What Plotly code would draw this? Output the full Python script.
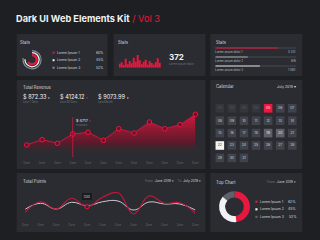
import plotly.graph_objects as go

W, H = 320, 240
BG = "#1e1f22"
PANEL = "#2a2c31"
RED = "#e8173f"
WHITE = "#f2f2f4"
TXT = "#d6d8dc"
DIM = "#70747c"
FONT = "Inter, Roboto, sans-serif"

# ---------------- data ----------------
title_main = "Dark UI Web Elements Kit"
title_vol = "/ Vol 3"

ring_labels = ["Lorem Ipsum 1", "Lorem Ipsum 2", "Lorem Ipsum 3"]
ring_percent_labels = ["60%", "45%", "52%"]
ring_arcs = [66, 76, 78]          # drawn share of each ring: red (inner), white, gray (outer)

bar_values = [12, 16, 8, 27, 10, 20, 13, 30, 18, 38, 22, 10, 18, 24, 9, 20, 14, 9, 16, 28, 15]
stat_total = "372"
stat_caption = "Lorem ipsum dolor"

progress_labels = ["Lorem ipsum dolor 1", "Lorem ipsum dolor 2", "Lorem ipsum dolor 3"]
progress_counts = ["5 310", "816", "1 080"]
progress_share = [77, 40, 55]

revenue_dates = ["Date"] * 12
revenue_values = [2250, 3440, 2630, 4717, 5100, 3300, 5910, 4940, 7410, 5910, 6800, 9140]
revenue_highlight = 3
revenue_totals = ["$ 872.33", "$ 4124.12", "$ 9073.99"]
revenue_periods = ["Last 7 Days", "Last 30 Days", "Last Month"]

calendar_month = "July 2019"
weekdays = ["S", "M", "T", "W", "T", "F", "S"]
days = list(range(1, 32))
faded_days = [1, 2, 3, 4]
selected_day = 5
range_days = [19, 20]
today = 22

points_dates = ["Date"] * 12
points_red = [310, 730, 440, 870, 530, 910, 1090, 240, 960, 670, 690, 270]
points_gray = [430, 670, 440, 710, 570, 730, 760, 400, 720, 640, 640, 400]
points_highlight = 4
points_tooltip = "1250"

top_labels = ["Lorem Ipsum 1", "Lorem Ipsum 2", "Lorem Ipsum 3"]
top_values = [48, 38, 14]
top_percent_labels = ["62%", "45%", "52%"]
top_month = "June 2019"

# ---------------- helpers ----------------
def X(x):
    return x / W

def Y(y):
    return 1 - y / H

shapes = []
annotations = []

def rect(x0, y0, x1, y1, color, layer="below"):
    shapes.append(dict(type="rect", xref="paper", yref="paper", x0=X(x0), x1=X(x1),
                       y0=Y(y1), y1=Y(y0), fillcolor=color, line=dict(width=0), layer=layer))

def T(x, y, s, size=4.0, color=TXT, xa="left", ya="middle"):
    annotations.append(dict(x=X(x), y=Y(y), xref="paper", yref="paper", text=s, showarrow=False,
                            xanchor=xa, yanchor=ya, borderpad=0, borderwidth=0,
                            font=dict(family=FONT, size=size, color=color)))

# panels
for p in [(14, 34, 107, 76), (113, 34, 207, 76), (212, 34, 306, 76),
          (14, 80, 207, 169), (212, 80, 306, 169),
          (14, 173, 207, 232), (212, 173, 306, 232)]:
    rect(*p, PANEL)

fig = go.Figure()

# title
T(13.5, 18.5, f"<b>{title_main}</b> <span style='color:{RED}'>{title_vol}</span>", size=9.2, color=WHITE)

# ---------- panel 1 : rings ----------
T(17, 42, "Stats", 4.2)
ring_colors = [RED, WHITE, "#8b8f97"]
ring_radius = [5.9, 7.9, 9.9]
ring_thick = [2.3, 1.3, 1.2]
cx, cy = 29.7, 59.7
for i in range(3):
    r = ring_radius[i]
    fig.add_trace(go.Pie(values=[ring_arcs[i], 100 - ring_arcs[i]], sort=False, direction="clockwise",
                         rotation=0, hole=(r - ring_thick[i]) / r, textinfo="none", hoverinfo="skip",
                         marker=dict(colors=[ring_colors[i], "rgba(0,0,0,0)"], line=dict(width=0)),
                         domain=dict(x=[X(cx - r), X(cx + r)], y=[Y(cy + r), Y(cy - r)]),
                         showlegend=False))
for i, lab in enumerate(ring_labels):
    yy = 52.7 + 7.5 * i
    rect(50.7, yy - 1, 52.7, yy + 1, ring_colors[i], layer="above")
    T(55, yy, lab, 3.3, TXT)
    T(102, yy, ring_percent_labels[i], 3.3, TXT, xa="right")

# ---------- panel 2 : bars ----------
T(118, 42, "Stats", 4.2)
fig.add_trace(go.Bar(x=list(range(len(bar_values))), y=bar_values, width=0.5,
                     marker=dict(color=RED, line=dict(width=0)), xaxis="x3", yaxis="y3",
                     hoverinfo="skip", showlegend=False))
T(169.5, 57.3, f"<b>{stat_total}</b>", 8, WHITE)
T(170, 64.3, stat_caption, 2.8, DIM)

# ---------- panel 3 : progress ----------
T(218, 42, "Stats", 4.2)
fig.add_trace(go.Bar(y=[0, 1, 2], x=[100, 100, 100], orientation="h", width=0.11,
                     marker=dict(color="#45484f", line=dict(width=0)), xaxis="x5", yaxis="y5",
                     hoverinfo="skip", showlegend=False))
fig.add_trace(go.Bar(y=[0, 1, 2], x=progress_share, orientation="h", width=0.11,
                     marker=dict(color=[RED, "#a4a7ad", "#d9dadd"], line=dict(width=0)),
                     xaxis="x5", yaxis="y5", hoverinfo="skip", showlegend=False))
for i, lab in enumerate(progress_labels):
    yy = 51.5 + 9 * i
    T(217, yy, lab, 2.9, "#b9bcc2")
    T(300, yy, progress_counts[i], 2.9, "#b9bcc2", xa="right")

# ---------- revenue ----------
T(20, 87, "Total Revenue", 4.2)
for i, v in enumerate(revenue_totals):
    xx = [20, 58.3, 96.7][i]
    dot = RED if i == 1 else WHITE
    T(xx, 96.7, f"{v} <span style='font-size:3px;color:{dot}'>▾</span>", 5.6, WHITE)
    T(xx, 102.5, revenue_periods[i], 2.8, DIM)

fig.add_trace(go.Scatter(
    x=list(range(len(revenue_values))), y=revenue_values, mode="lines+markers",
    fill="tozeroy",
    fillgradient=dict(type="vertical", colorscale=[[0, "rgba(42,44,49,0)"], [0.3, "rgba(110,20,42,0.75)"],
                                                   [1, "rgba(215,24,60,1)"]]),
    line=dict(color="#c9183d", width=1),
    marker=dict(size=4.6, color="#6a1126", line=dict(color=RED, width=1)),
    cliponaxis=False, hoverinfo="skip", showlegend=False, xaxis="x", yaxis="y"))
shapes.append(dict(type="line", xref="x", yref="paper", x0=revenue_highlight, x1=revenue_highlight,
                   y0=Y(157), y1=Y(117), line=dict(color=RED, width=0.7), layer="above"))
annotations.append(dict(x=revenue_highlight, y=Y(120.3), xref="x", yref="paper", xanchor="left", yanchor="middle",
                        xshift=3, showarrow=False, borderpad=0, borderwidth=0,
                        text=f"$ {revenue_values[revenue_highlight]} <span style='font-size:2.5px;color:{RED}'>▾</span>",
                        font=dict(family=FONT, size=3.8, color=WHITE)))
annotations.append(dict(x=revenue_highlight, y=Y(124.5), xref="x", yref="paper", xanchor="left", yanchor="middle",
                        xshift=3, showarrow=False, borderpad=0, borderwidth=0, text="in Dollars",
                        font=dict(family=FONT, size=2.6, color=DIM)))

# ---------- calendar ----------
T(218, 86.7, "Calendar", 4.2)
T(300, 86.7, f"{calendar_month} ▾", 3.5, TXT, xa="right")
cx_, cy_, mc, tc = [], [], [], []
for d in days:
    cx_.append((d - 1) % 7)
    cy_.append((d - 1) // 7)
    if d in faded_days:
        mc.append("#34363c"); tc.append("#5e6168")
    elif d == selected_day:
        mc.append("#f0163d"); tc.append(WHITE)
    elif d in range_days:
        mc.append("#5d6169"); tc.append(WHITE)
    elif d == today:
        mc.append("#f4f4f5"); tc.append("#2a2c31")
    else:
        mc.append("#40434a"); tc.append("#d2d4d8")
fig.add_trace(go.Scatter(x=cx_, y=cy_, mode="markers+text", text=[f"{d:02d}" for d in days],
                         textposition="middle center", textfont=dict(family=FONT, size=3.4, color=tc),
                         marker=dict(symbol="square", size=8.6, color=mc, line=dict(width=0)),
                         xaxis="x4", yaxis="y4", hoverinfo="skip", showlegend=False, cliponaxis=False))
fig.add_trace(go.Scatter(x=list(range(7)), y=[-0.8] * 7, mode="text", text=weekdays,
                         textfont=dict(family=FONT, size=3.4, color="#7d8088"),
                         xaxis="x4", yaxis="y4", hoverinfo="skip", showlegend=False, cliponaxis=False))

# ---------- total points ----------
T(20, 181, "Total Points", 4.2)
T(202, 181, f"<span style='color:{DIM}'>From</span>  June 2019 ▾    <span style='color:{DIM}'>To</span>  July 2019 ▾",
  3.3, TXT, xa="right")
px_ = list(range(len(points_red)))
fig.add_trace(go.Scatter(x=px_, y=points_gray, mode="lines", line=dict(color="#c8cad0", width=1, shape="spline",
                         smoothing=1.2), xaxis="x2", yaxis="y2", hoverinfo="skip", showlegend=False,
                         cliponaxis=False))
fig.add_trace(go.Scatter(x=px_, y=points_red, mode="lines", line=dict(color="#c2173c", width=1.2, shape="spline",
                         smoothing=1.2), xaxis="x2", yaxis="y2", hoverinfo="skip", showlegend=False,
                         cliponaxis=False))
fig.add_trace(go.Scatter(x=[points_highlight], y=[points_red[points_highlight]], mode="markers",
                         marker=dict(size=4.2, color="#2a2c31", line=dict(color=RED, width=1)),
                         xaxis="x2", yaxis="y2", hoverinfo="skip", showlegend=False, cliponaxis=False))
annotations.append(dict(x=points_highlight, y=points_red[points_highlight], xref="x2", yref="y2",
                        showarrow=False, yshift=10.5, text=points_tooltip, bgcolor="#1a1b1e",
                        borderpad=1.5, borderwidth=0, font=dict(family=FONT, size=2.8, color=TXT)))

# ---------- top chart ----------
T(218, 182, "Top Chart", 4.2)
T(300, 182, f"<span style='color:{DIM}'>From</span>  {top_month} ▾", 3.3, TXT, xa="right")
top_colors = [RED, WHITE, "#5d6169"]
order = [0, 2, 1]
dcx, dcy, dr = 236.7, 206.7, 15.8
fig.add_trace(go.Pie(values=[top_values[i] for i in order], sort=False, direction="counterclockwise",
                     rotation=0, hole=0.6, textinfo="none", hoverinfo="skip",
                     marker=dict(colors=[top_colors[i] for i in order], line=dict(width=0)),
                     domain=dict(x=[X(dcx - dr), X(dcx + dr)], y=[Y(dcy + dr), Y(dcy - dr)]),
                     showlegend=False))
for i, lab in enumerate(top_labels):
    yy = 201.7 + 7.6 * i
    rect(258, yy - 1.1, 260.2, yy + 1.1, top_colors[i], layer="above")
    T(262.5, yy, lab, 3.4, TXT)
    T(300, yy, top_percent_labels[i], 3.4, TXT, xa="right")

# ---------------- layout ----------------
hidden = dict(showgrid=False, zeroline=False, showline=False, showticklabels=False, ticks="", fixedrange=True)
tickx = dict(showgrid=False, zeroline=False, showline=False, ticks="outside", tickcolor="rgba(0,0,0,0)",
             tickfont=dict(family=FONT, size=3, color="#5f626a"), fixedrange=True)

fig.update_layout(
    width=W, height=H, margin=dict(l=0, r=0, t=0, b=0), autosize=False,
    paper_bgcolor=BG, plot_bgcolor="rgba(0,0,0,0)", hovermode=False, showlegend=False,
    barmode="overlay",
    xaxis=dict(domain=[X(24.3), X(196.7)], range=[0, 11], anchor="y", tickvals=list(range(12)),
               ticktext=revenue_dates, ticklen=4, **tickx),
    yaxis=dict(domain=[Y(155), Y(105)], range=[0, 11230], anchor="x", **hidden),
    xaxis2=dict(domain=[X(22.7), X(196.7)], range=[0, 11], anchor="y2", tickvals=list(range(12)),
                ticktext=points_dates, ticklen=1, **tickx),
    yaxis2=dict(domain=[Y(220), Y(185)], range=[0, 1400], anchor="x2", **hidden),
    xaxis3=dict(domain=[X(118.3), X(161.7)], range=[-0.5, 20.5], anchor="y3", **hidden),
    yaxis3=dict(domain=[Y(67.7), Y(50)], range=[0, 53], anchor="x3", **hidden),
    xaxis4=dict(domain=[X(215.5), X(301.9)], range=[-0.5, 6.5], anchor="y4", **hidden),
    yaxis4=dict(domain=[Y(164.1), Y(102.1)], range=[4.5, -0.5], anchor="x4", **hidden),
    xaxis5=dict(domain=[X(217), X(300)], range=[0, 100], anchor="y5", **hidden),
    yaxis5=dict(domain=[Y(70.5), Y(43.5)], range=[2.5, -0.5], anchor="x5", **hidden),
    shapes=shapes, annotations=annotations,
)

fig.write_html("out.html")
